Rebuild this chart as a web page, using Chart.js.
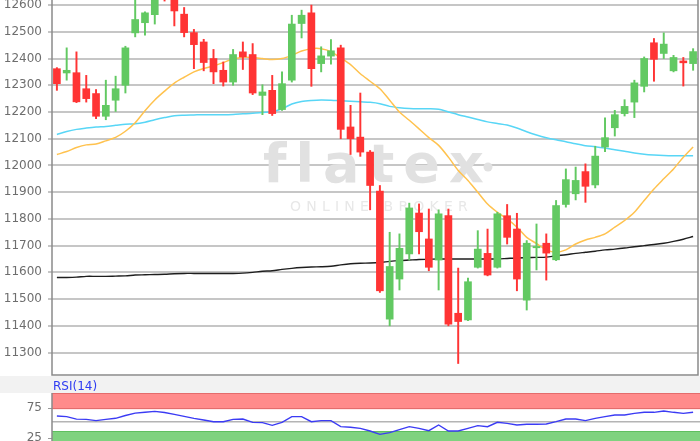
<!DOCTYPE html>
<html>
<head>
<meta charset="utf-8">
<script src="https://cdn.jsdelivr.net/npm/chart.js@4.4.1/dist/chart.umd.min.js"></script>
<style>
  html, body { margin:0; padding:0; background:#ffffff; }
  #wrap { position:relative; width:700px; height:441px; overflow:hidden; background:#ffffff; }
  #mainBox { position:absolute; left:0; top:0; width:700px; height:376px; }
  #strip { position:absolute; left:0; top:376px; width:700px; height:17px; background:#f2f2f2; }
  #rsiBox { position:absolute; left:0; top:376px; width:700px; height:65px; }
  #rsiTitle { position:absolute; left:53px; top:379px; font:12px "DejaVu Sans", sans-serif; line-height:14px; color:#2f3cf2; z-index:5; }
</style>
</head>
<body>
<div id="wrap">
  <div id="mainBox"><canvas id="main"></canvas></div>
  <div id="strip"></div>
  <div id="rsiBox"><canvas id="rsi"></canvas></div>
  <div id="rsiTitle">RSI(14)</div>
</div>
<script>
// ---------- data ----------
const OPEN  = [12362,12346,12347,12287,12269,12184,12244,12300,12496,12534,12564,12690,12640,12566,12497,12462,12400,12356,12312,12425,12415,12262,12281,12209,12319,12531,12571,12381,12409,12440,12144,12106,12050,11904,11425,11575,11669,11822,11725,11646,11812,11447,11422,11619,11671,11619,11812,11762,11496,11692,11709,11647,11854,11894,11977,11927,12069,12141,12194,12237,12296,12459,12419,12354,12391,12381];
const HIGH  = [12366,12440,12425,12337,12284,12319,12334,12446,12650,12575,12660,12710,12655,12591,12509,12472,12434,12387,12434,12462,12456,12302,12337,12350,12562,12581,12600,12444,12471,12450,12225,12271,12056,11925,11750,11744,11859,11856,11837,11834,11837,11616,11579,11756,11762,11825,11854,11821,11719,11781,11744,11869,11987,11994,12006,12072,12178,12206,12246,12319,12406,12475,12496,12412,12404,12437];
const LOW   = [12281,12319,12235,12237,12175,12171,12202,12271,12481,12487,12529,12615,12522,12481,12362,12354,12306,12297,12300,12359,12265,12190,12187,12206,12312,12477,12296,12350,12379,12100,12041,12034,11834,11525,11400,11534,11646,11669,11606,11534,11400,11259,11419,11616,11587,11616,11706,11531,11459,11609,11571,11644,11844,11871,11862,11916,12052,12110,12185,12179,12275,12315,12400,12350,12297,12356];
const CLOSE = [12306,12356,12238,12250,12184,12225,12287,12440,12546,12571,12630,12640,12578,12497,12452,12385,12350,12312,12415,12406,12271,12275,12194,12306,12529,12562,12362,12410,12429,12135,12100,12050,11925,11531,11622,11690,11841,11752,11619,11819,11406,11416,11565,11687,11590,11819,11731,11575,11709,11697,11672,11850,11947,11944,11922,12035,12104,12190,12221,12309,12400,12397,12454,12404,12384,12426];

const MA_FAST = [12041,12052,12067,12077,12080,12092,12105,12128,12160,12205,12245,12278,12308,12330,12350,12363,12372,12385,12398,12405,12404,12400,12396,12400,12412,12428,12437,12437,12426,12402,12377,12343,12315,12287,12244,12200,12169,12137,12104,12075,12031,11981,11944,11900,11856,11825,11800,11769,11731,11708,11684,11675,11684,11706,11721,11731,11744,11769,11794,11825,11869,11912,11950,11987,12031,12069];
const MA_MID  = [12116,12127,12135,12140,12144,12146,12150,12154,12156,12162,12171,12179,12186,12188,12189,12190,12190,12190,12191,12193,12195,12198,12201,12212,12230,12239,12243,12245,12244,12242,12240,12238,12236,12231,12221,12216,12213,12212,12212,12210,12200,12190,12181,12172,12163,12157,12151,12140,12126,12114,12104,12096,12089,12081,12074,12070,12065,12059,12053,12047,12042,12039,12037,12036,12036,12036];
const MA_SLOW = [11581,11581,11582,11585,11585,11585,11586,11587,11590,11591,11592,11593,11595,11596,11596,11596,11596,11596,11596,11597,11600,11604,11606,11611,11615,11618,11620,11621,11623,11628,11632,11634,11635,11637,11641,11644,11646,11648,11649,11650,11650,11650,11650,11650,11650,11650,11652,11654,11655,11656,11657,11662,11666,11671,11675,11679,11684,11687,11691,11696,11700,11704,11709,11716,11724,11734];

const RSI = [61.7,60.6,56.5,56.1,53.9,56.1,57.8,62.5,66.5,68,69.4,67.5,64.4,61,57.8,55,52.2,52.2,56.1,56.7,51.1,50.6,46.1,51.1,60.6,60.6,52.2,53.9,53.9,43.9,43,41.1,36.7,31.1,34,39,43.9,41.1,37.2,46.7,36.7,36.7,41.1,45.6,43.9,51.1,49.4,46.7,47.8,47.8,48.3,52.2,56.7,56.7,53.9,57.8,60.6,63.3,63.3,66.1,67.8,67.8,70,67.8,66.1,67.8];

const DAYS = OPEN.map((_, i) => 'T' + (i + 1));
const PRICE_TICKS = [11300,11400,11500,11600,11700,11800,11900,12000,12100,12200,12300,12400,12500,12600];
const PRICE_MIN = 11216, PRICE_MAX = 12619;
const RSI_TICKS = [25, 75];
const RSI_MIN = 20, RSI_MAX = 100;
const RSI_UPPER = 73, RSI_LOWER = 36, RSI_MID = 52;

// ---------- styles ----------
const UP = '#62c962', DOWN = '#ff3434';
const TICK_FONT = { family: 'DejaVu Sans', size: 12 };
const TICK_COLOR = '#6e6e6e';
const candleColors = OPEN.map((o, i) => CLOSE[i] >= o ? UP : DOWN);
const plainNumber = v => String(v);

const mainDecor = {
  id: 'mainDecor',
  beforeDatasetsDraw(chart) {
    const ctx = chart.ctx;
    ctx.save();
    ctx.fillStyle = '#e1e1e1';
    ctx.font = 'bold 54px "DejaVu Sans"';
    ctx.textBaseline = 'alphabetic';
    let x = 263;
    for (const ch of 'flatex') { ctx.fillText(ch, x, 182); x += ctx.measureText(ch).width + 9; }
    ctx.beginPath(); ctx.arc(488, 167, 4.5, 0, Math.PI * 2); ctx.fill();
    ctx.fillStyle = '#e8e8e8';
    ctx.font = '14px "DejaVu Sans"';
    let x2 = 290;
    for (const ch of 'ONLINE BROKER') { ctx.fillText(ch, x2, 211); x2 += ctx.measureText(ch).width + 5.2; }
    ctx.restore();
  },
  afterDraw(chart) {
    const { ctx, chartArea: a } = chart;
    ctx.save();
    ctx.strokeStyle = '#8a8a8a';
    ctx.lineWidth = 1.5;
    ctx.beginPath();
    ctx.moveTo(a.left, a.top); ctx.lineTo(a.left, a.bottom);
    ctx.lineTo(a.right, a.bottom); ctx.lineTo(a.right, a.top);
    ctx.stroke();
    ctx.restore();
  }
};

new Chart(document.getElementById('main'), {
  type: 'bar',
  data: {
    labels: DAYS,
    datasets: [
      { type: 'line', label: 'MA200', data: MA_SLOW, borderColor: '#1e1e1e', borderWidth: 1.4, pointRadius: 0, tension: 0.3, order: 5 },
      { type: 'line', label: 'MA50', data: MA_MID, borderColor: '#58d6f6', borderWidth: 1.5, pointRadius: 0, tension: 0.3, order: 4 },
      { type: 'line', label: 'MA20', data: MA_FAST, borderColor: '#ffc24e', borderWidth: 1.5, pointRadius: 0, tension: 0.3, order: 3 },
      { label: 'wick', data: LOW.map((l, i) => [l, HIGH[i]]), backgroundColor: candleColors, barThickness: 1.3, grouped: false, borderWidth: 0, order: 2 },
      { label: 'body', data: OPEN.map((o, i) => [o, CLOSE[i]]), backgroundColor: candleColors, barThickness: 7, grouped: false, borderWidth: 0, order: 1 }
    ]
  },
  options: {
    animation: false,
    responsive: true,
    maintainAspectRatio: false,
    layout: { padding: { left: 0, right: 2, top: 0, bottom: 1 } },
    plugins: { legend: { display: false }, tooltip: { enabled: false } },
    scales: {
      x: { display: false, offset: true },
      y: {
        min: PRICE_MIN, max: PRICE_MAX,
        afterBuildTicks(s) { s.ticks = PRICE_TICKS.map(v => ({ value: v })); },
        afterFit(s) { s.width = 52; s.paddingTop = 0; s.paddingBottom = 0; },
        grid: { color: '#c6c6c6', lineWidth: 2, tickLength: 4, drawTicks: true },
        border: { display: false },
        ticks: { padding: 6, color: TICK_COLOR, font: TICK_FONT, callback: plainNumber }
      }
    }
  },
  plugins: [mainDecor]
});

const rsiDecor = {
  id: 'rsiDecor',
  beforeDraw(chart) {
    const { ctx, chartArea: a, scales: { y } } = chart;
    const w = chart.width - a.left;
    ctx.save();
    ctx.fillStyle = '#ffffff';
    ctx.fillRect(0, a.top, chart.width, a.bottom - a.top);
    const yu = y.getPixelForValue(RSI_UPPER);
    const yl = y.getPixelForValue(RSI_LOWER);
    const ym = y.getPixelForValue(RSI_MID);
    ctx.fillStyle = '#ff8b8b';
    ctx.fillRect(a.left, a.top, w, yu - a.top);
    ctx.fillStyle = '#7fd27f';
    ctx.fillRect(a.left, yl, w, a.bottom - yl);
    ctx.lineWidth = 1;
    ctx.strokeStyle = '#e46c6c';
    ctx.beginPath();
    ctx.moveTo(a.left, a.top + 0.5); ctx.lineTo(a.left + w, a.top + 0.5);
    ctx.moveTo(a.left, Math.round(yu) - 0.5); ctx.lineTo(a.left + w, Math.round(yu) - 0.5);
    ctx.stroke();
    ctx.strokeStyle = '#5fbf5f';
    ctx.beginPath();
    ctx.moveTo(a.left, Math.round(yl) + 0.5); ctx.lineTo(a.left + w, Math.round(yl) + 0.5);
    ctx.stroke();
    ctx.strokeStyle = '#b4b4b4';
    ctx.lineWidth = 1.5;
    ctx.beginPath();
    ctx.moveTo(a.left, ym); ctx.lineTo(a.left + w, ym);
    ctx.stroke();
    ctx.restore();
  },
  afterDraw(chart) {
    const { ctx, chartArea: a } = chart;
    ctx.save();
    ctx.strokeStyle = '#8a8a8a';
    ctx.lineWidth = 1.5;
    ctx.beginPath();
    ctx.moveTo(a.left, a.top); ctx.lineTo(a.left, a.bottom);
    ctx.stroke();
    ctx.restore();
  }
};

new Chart(document.getElementById('rsi'), {
  type: 'line',
  data: {
    labels: DAYS,
    datasets: [{ label: 'RSI(14)', data: RSI, borderColor: '#3b3bf4', borderWidth: 1.4, pointRadius: 0, tension: 0 }]
  },
  options: {
    animation: false,
    responsive: true,
    maintainAspectRatio: false,
    layout: { padding: { left: 0, right: 2, top: 17, bottom: 0 } },
    plugins: { legend: { display: false }, tooltip: { enabled: false } },
    scales: {
      x: { display: false, offset: true },
      y: {
        min: RSI_MIN, max: RSI_MAX,
        afterBuildTicks(s) { s.ticks = RSI_TICKS.map(v => ({ value: v })); },
        afterFit(s) { s.width = 52; s.paddingTop = 0; s.paddingBottom = 0; },
        grid: { drawOnChartArea: false, drawTicks: true, tickLength: 4, color: '#9a9a9a' },
        border: { display: false },
        ticks: { padding: 6, color: TICK_COLOR, font: TICK_FONT, callback: plainNumber }
      }
    }
  },
  plugins: [rsiDecor]
});
</script>
</body>
</html>
